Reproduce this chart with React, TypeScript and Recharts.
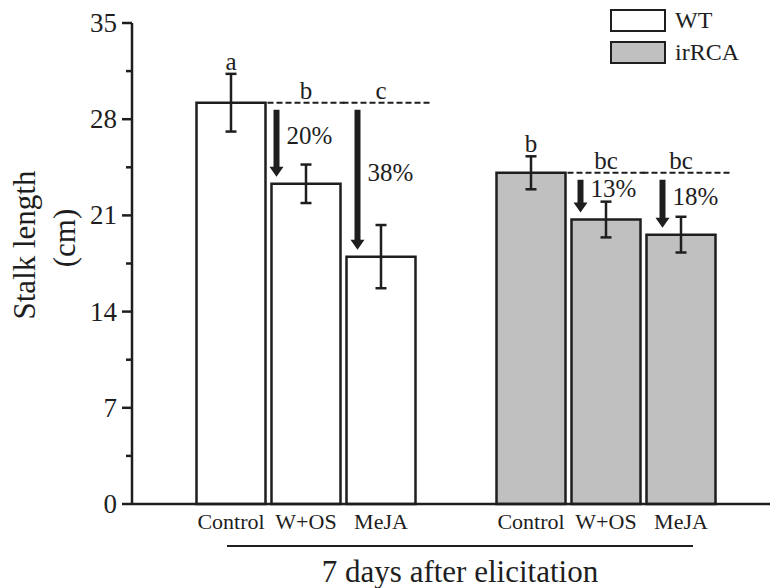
import { BarChart, Bar, XAxis, YAxis, ErrorBar, Cell, LabelList, Legend } from 'recharts'

const treatments = ['Control', 'W+OS', 'MeJA']
const genotypes = ['WT', 'irRCA']
const wtMean = [29.2, 23.3, 18.0]
const wtErr = [2.1, 1.4, 2.3]
const irMean = [24.1, 20.7, 19.6]
const irErr = [1.2, 1.3, 1.3]
const wtLetters = ['a', 'b', 'c']
const irLetters = ['b', 'bc', 'bc']
const wtDrop = ['', '20%', '38%']
const irDrop = ['', '13%', '18%']
const yTicks = [0, 7, 14, 21, 28, 35]
const xTitle = '7 days after elicitation'
const yTitle = ['Stalk length', '(cm)']

const INK = '#1e1e1e'
const FILLS = ['#ffffff', '#c0c0c0']
const FONT = '"Liberation Serif", "Times New Roman", serif'
// arrow x offset from the bar's left edge, per drawn bar
const ARROW_DX = [0, 5, 11, 0, 9, 16]

type Row = {
  name: string
  group: number
  t: number
  mean: number | null
  err: number | null
  letter: string
  drop: string
  ctrl: number | null
}

const rows: Row[] = [
  ...treatments.map((name, t) => ({
    name, group: 0, t, mean: wtMean[t], err: wtErr[t], letter: wtLetters[t], drop: wtDrop[t], ctrl: wtMean[0],
  })),
  { name: '', group: -1, t: -1, mean: null, err: null, letter: '', drop: '', ctrl: null },
  ...treatments.map((name, t) => ({
    name, group: 1, t, mean: irMean[t], err: irErr[t], letter: irLetters[t], drop: irDrop[t], ctrl: irMean[0],
  })),
]
// LabelList skips the empty slot, so its index runs over the drawn bars only
const barRows = rows.filter((r) => r.mean != null)

// major ticks plus the unlabelled half steps
const allTicks = yTicks.flatMap((v, i) => (i < yTicks.length - 1 ? [v, (v + yTicks[i + 1]) / 2] : [v]))

function YTick({ x, y, payload }: any) {
  const ax = x + 15
  const major = yTicks.includes(payload.value)
  return (
    <g>
      <line x1={ax - (major ? 10 : 6)} x2={ax} y1={y} y2={y} stroke={INK} strokeWidth={2.5} />
      {major && (
        <text x={x} y={y} dy={9} textAnchor="end" fontFamily={FONT} fontSize={27} fill={INK}>
          {payload.value}
        </text>
      )}
    </g>
  )
}

function Annot(props: any) {
  const { x, y, width, height, index } = props
  const r = barRows[index]
  if (!r || r.mean == null || r.err == null || r.ctrl == null) return null
  const base = y + height
  const k = height / r.mean
  const errTop = base - (r.mean + r.err) * k
  const ctrlY = base - r.ctrl * k
  const cx = x + width / 2
  const letterBase = r.t === 0 ? errTop - 4 : ctrlY - 4
  const parts = [
    <text key="l" x={cx} y={letterBase} textAnchor="middle" fontFamily={FONT} fontSize={25} fill={INK}>
      {r.letter}
    </text>,
  ]
  if (r.t > 0) {
    const x2 = r.t === 2 ? x + width + 17 : x + width + 4
    parts.push(
      <line key="d" x1={x - 4} x2={x2} y1={ctrlY} y2={ctrlY} stroke={INK} strokeWidth={2} strokeDasharray="6 3" />
    )
    const ax = x + ARROW_DX[index]
    const y0 = ctrlY + 7
    const tip = y - 7
    const hh = 10
    parts.push(
      <polygon
        key="a"
        points={`${ax - 3},${y0} ${ax + 3},${y0} ${ax + 3},${tip - hh} ${ax + 7},${tip - hh} ${ax},${tip} ${ax - 7},${tip - hh} ${ax - 3},${tip - hh}`}
        fill={INK}
      />
    )
    parts.push(
      <text key="p" x={ax + 10} y={(y0 + tip) / 2 - 7} dy={8} fontFamily={FONT} fontSize={25} fill={INK}>
        {r.drop}
      </text>
    )
  }
  return <g>{parts}</g>
}

function LegendBox() {
  return (
    <div style={{ fontFamily: FONT, fontSize: 24, color: INK, lineHeight: '32px' }}>
      {genotypes.map((g, i) => (
        <div key={g} style={{ display: 'flex', alignItems: 'center', height: 32 }}>
          <span
            style={{
              display: 'inline-block',
              width: 52,
              height: 19,
              background: FILLS[i],
              border: `2.5px solid ${INK}`,
              marginRight: 9,
            }}
          />
          {g}
        </div>
      ))}
    </div>
  )
}

export default function App() {
  return (
    <div style={{ position: 'absolute', left: 0, top: 0, background: '#fff' }}>
      <BarChart width={771} height={588} data={rows} margin={{ top: 23, right: 1, left: 0, bottom: 0 }}>
        <XAxis
          dataKey="name"
          allowDuplicatedCategory
          interval={0}
          height={84}
          tickLine={false}
          tickSize={0}
          tickMargin={9}
          padding={{ left: 61.5, right: 51.5 }}
          axisLine={{ stroke: INK, strokeWidth: 2.5 }}
          tick={{ fontFamily: FONT, fontSize: 22, fill: INK }}
          label={{
            content: ({ viewBox }: any) => (
              <g>
                <line x1={viewBox.x + 95} x2={viewBox.x + 561} y1={546} y2={546} stroke={INK} strokeWidth={2} />
                <text x={viewBox.x + 328} y={582} textAnchor="middle" fontFamily={FONT} fontSize={31} fill={INK}>
                  {xTitle}
                </text>
              </g>
            ),
          }}
        />
        <YAxis
          width={132}
          domain={[0, 35]}
          ticks={allTicks}
          interval={0}
          tickLine={false}
          tickSize={10}
          tickMargin={5}
          axisLine={{ stroke: INK, strokeWidth: 2.5 }}
          tick={<YTick />}
          label={{
            content: () => (
              <g fontFamily={FONT} fontSize={31} fill={INK}>
                <text x={24} y={245} transform="rotate(-90 24 245)" textAnchor="middle" dominantBaseline="central">
                  {yTitle[0]}
                </text>
                <text x={64} y={238} transform="rotate(-90 64 238)" textAnchor="middle" dominantBaseline="central">
                  {yTitle[1]}
                </text>
              </g>
            ),
          }}
        />
        <Legend
          layout="horizontal"
          verticalAlign="middle"
          align="center"
          content={() => <LegendBox />}
          wrapperStyle={{ position: 'absolute', top: 4, left: 610, width: 150 }}
        />
        <Bar dataKey="mean" barSize={69} stroke={INK} strokeWidth={2.5} isAnimationActive={false}>
          {rows.map((r, i) => (
            <Cell key={i} fill={r.group >= 0 ? FILLS[r.group] : 'none'} />
          ))}
          <ErrorBar dataKey="err" width={5.5} stroke={INK} strokeWidth={2.5} />
          <LabelList dataKey="mean" content={<Annot />} />
        </Bar>
      </BarChart>
    </div>
  )
}
